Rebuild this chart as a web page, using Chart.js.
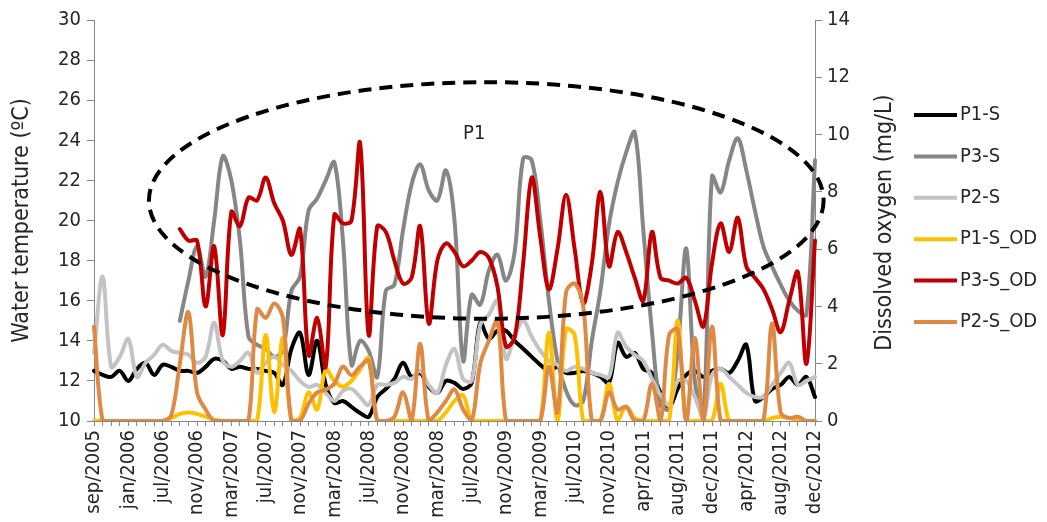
<!DOCTYPE html>
<html>
<head>
<meta charset="utf-8">
<script src="https://cdn.jsdelivr.net/npm/chart.js@4.4.1/dist/chart.umd.min.js"></script>
<style>
  html, body { margin: 0; padding: 0; background: #fff; }
  #wrap { width: 1047px; height: 522px; }
</style>
</head>
<body>
<div id="wrap"><canvas id="myChart" width="1047" height="522"></canvas></div>
<script>
// tick labels, one every 4 months (as printed on the original)
const tickLabels = ['sep/2005','jan/2006','jul/2006','nov/2006','mar/2007','jul/2007','nov/2007','mar/2008',
  'jul/2008','nov/2008','mar/2008','jul/2009','nov/2009','mar/2009','jul/2010','nov/2010','apr/2011',
  'aug/2011','dec/2011','apr/2012','aug/2012','dec/2012'];

// water temperature (ºC), left axis
const p1S = [12.5,12.3,12.2,12.5,12.0,12.6,12.9,12.3,12.8,12.7, 12.5,12.5,12.4,12.7,13.1,13.0,12.6,12.7,12.6,12.6,
  12.5,12.4,11.8,13.6,14.4,12.3,14.0,11.8,10.9,11.0, 10.7,10.4,10.2,11.2,11.6,12.1,12.9,12.2,12.4,11.7,
  11.4,12.0,11.9,11.6,11.9,14.9,14.1,14.5,14.5,14.0, 13.6,13.2,12.8,12.5,12.7,12.4,12.4,12.5,12.4,12.2,
  11.9,13.9,13.2,13.4,12.6,12.4,11.4,10.7,11.6,12.3, 12.5,12.2,12.5,12.6,12.4,13.0,13.8,11.0,11.2,11.6,
  11.8,12.2,11.8,12.2,11.2];
const p3S = [null,null,null,null,null,null,null,null,null,null, 15.0,17.0,18.7,17.2,20.0,23.2,22.0,19.0,14.2,13.8,
  13.6,13.2,13.5,16.5,17.2,20.5,21.1,22.0,22.9,19.0, 12.8,14.0,13.5,12.2,16.5,16.8,19.5,21.8,22.8,21.5,
  21.0,22.5,20.0,13.0,16.3,15.8,17.5,18.3,17.0,18.4, 23.1,23.0,20.0,16.0,13.0,11.5,10.8,11.0,14.0,16.5,
  19.8,21.9,23.4,24.4,19.5,14.5,10.8,10.6,13.5,18.6, 12.0,10.3,22.2,21.4,23.0,24.1,22.5,20.5,18.7,17.7,
  16.8,16.0,15.5,15.3,23.0];
const p2S = [13.4,17.2,12.7,13.2,14.1,12.2,12.9,13.3,13.8,13.5, 13.4,13.3,12.9,13.2,14.9,13.0,12.7,13.0,13.4,12.4,
  12.9,13.2,12.8,12.5,12.0,11.7,11.8,11.4,11.0,11.5, 11.6,11.2,10.8,11.8,11.8,11.9,12.2,12.1,12.5,11.8,
  11.4,12.8,13.6,12.1,12.0,14.8,15.3,16.0,13.1,14.2, 15.0,14.2,13.5,13.0,12.8,12.5,12.7,12.6,12.4,12.3,
  12.2,14.4,13.7,13.3,13.0,12.1,11.3,10.8,12.0,12.0, 11.2,10.2,12.3,12.6,12.2,11.8,11.4,11.2,11.2,11.8,
  12.4,12.9,11.8,12.0,12.2];

// dissolved oxygen (mg/L), right axis
const p1SOD = [0,0,0,0,0,0,0,0,0,0.1, 0.25,0.3,0.25,0.15,0.05,0,0,0,0,0,
  3.0,0.3,2.9,0,0.1,1.0,0.4,1.8,1.4,1.2, 1.4,1.8,2.2,0,0,0,0,0,0,0,
  0,0.3,0.7,0.9,0,0,0,0,0,0, 0,0,0,3.1,0,3.2,3.0,0,0,0,
  1.3,0,0.5,0.1,0,0,0,0,3.5,0, 0,0,0,1.3,0,0,0,0,0,0.1,
  0.15,0.1,0.05,0,0];
const p3SOD = [null,null,null,null,null,null,null,null,null,null, 6.7,6.3,6.3,4.0,6.1,3.0,7.3,6.8,7.8,7.7,
  8.5,7.6,7.0,5.8,6.7,2.3,3.6,1.9,7.2,6.9, 7.0,9.7,3.0,6.8,6.6,5.6,4.8,5.0,6.8,3.4,
  5.6,6.2,5.9,5.4,5.6,5.9,5.7,4.7,2.6,2.9, 5.5,8.5,6.4,4.6,6.0,7.9,6.0,4.1,5.5,8.0,
  5.4,6.6,5.9,5.0,4.2,6.6,5.0,4.9,4.8,5.0, 4.2,3.3,5.5,6.9,5.9,7.1,5.4,5.0,4.6,3.9,
  3.1,4.2,5.2,2.0,6.3];
const p2SOD = [3.3,0,0,0,0,0,0,0,0,0.2, 2.0,3.8,1.0,0.4,0,0,0,0,0,3.9,
  3.6,4.1,3.6,0,0,0.6,1.0,1.1,1.3,1.9, 1.6,1.9,2.1,0,0,0.15,1.0,0,2.7,0,
  0.3,0.7,1.1,0.4,0,2.0,2.8,3.5,0,0, 0,0,0,1.9,0.3,4.5,4.8,4.0,0,0,
  1.0,0.4,0.5,0,0,1.3,0,3.0,3.2,0, 2.9,0,3.3,0,0,0,0,0,0,3.4,
  0.3,0.1,0.15,0,0];

// one category per month, a label every 4th
const categories = p1S.map((v, i) => (i % 4 === 0 ? tickLabels[i / 4] : ''));

// dashed ellipse and its label, in axis units (category index, ºC)
const ellipse = { cx: 45.7, cy: 21.0, rx: 39.3, ry: 5.9 };
const noteP1 = { x: 44.3, y: 24.3, text: 'P1' };

const FONT = "'DejaVu Sans Condensed', 'DejaVu Sans', sans-serif";
const TXT = '#262626';
const AXIS = '#868686';

const series = [
  { label: 'P1-S', data: p1S, color: '#000000', axis: 'y' },
  { label: 'P3-S', data: p3S, color: '#868686', axis: 'y' },
  { label: 'P2-S', data: p2S, color: '#c3c3c3', axis: 'y' },
  { label: 'P1-S_OD', data: p1SOD, color: '#ffc000', axis: 'y1' },
  { label: 'P3-S_OD', data: p3SOD, color: '#c00000', axis: 'y1' },
  { label: 'P2-S_OD', data: p2SOD, color: '#df8a44', axis: 'y1' }
];

const overlay = {
  id: 'overlay',
  afterDatasetsDraw(chart) {
    const ctx = chart.ctx;
    const x = chart.scales.x, y = chart.scales.y;
    const cx = x.getPixelForValue(ellipse.cx), cy = y.getPixelForValue(ellipse.cy);
    const rx = x.getPixelForValue(ellipse.cx + ellipse.rx) - cx;
    const ry = cy - y.getPixelForValue(ellipse.cy + ellipse.ry);
    ctx.save();
    ctx.strokeStyle = '#000';
    ctx.lineWidth = 4;
    ctx.setLineDash([13, 8]);
    ctx.beginPath();
    ctx.ellipse(cx, cy, rx, ry, 0, 0, Math.PI * 2);
    ctx.stroke();
    ctx.setLineDash([]);
    ctx.fillStyle = TXT;
    ctx.font = '20px ' + FONT;
    ctx.textAlign = 'center';
    ctx.textBaseline = 'middle';
    ctx.fillText(noteP1.text, x.getPixelForValue(noteP1.x), y.getPixelForValue(noteP1.y));
    ctx.restore();
  },
  afterDraw(chart) {
    const ctx = chart.ctx;
    const area = chart.chartArea;
    const mid = (area.top + area.bottom) / 2;
    ctx.save();
    ctx.fillStyle = TXT;
    ctx.font = '23px ' + FONT;
    ctx.textAlign = 'center';
    ctx.textBaseline = 'middle';
    // axis titles, both read bottom to top
    ctx.save();
    ctx.translate(22, mid);
    ctx.rotate(-Math.PI / 2);
    ctx.fillText('Water temperature (ºC)', 0, 0);
    ctx.restore();
    ctx.save();
    ctx.translate(885, mid + 2);
    ctx.rotate(-Math.PI / 2);
    ctx.fillText('Dissolved oxygen (mg/L)', 0, 0);
    ctx.restore();
    // legend
    ctx.font = '20px ' + FONT;
    ctx.textAlign = 'left';
    chart.data.datasets.forEach((ds, k) => {
      const ly = 115 + k * 41.4;
      ctx.strokeStyle = ds.borderColor;
      ctx.lineWidth = 4;
      ctx.beginPath();
      ctx.moveTo(914, ly);
      ctx.lineTo(957, ly);
      ctx.stroke();
      ctx.fillText(ds.label, 960, ly);
    });
    ctx.restore();
  }
};

const config = {
  type: 'line',
  data: {
    labels: categories,
    datasets: series.map((s, k) => ({
      label: s.label,
      data: s.data,
      yAxisID: s.axis,
      borderColor: s.color,
      backgroundColor: s.color,
      order: series.length - k
    }))
  },
  options: {
    responsive: false,
    devicePixelRatio: 1,
    animation: false,
    layout: { padding: { top: 20, right: 172, left: 0, bottom: 0 } },
    plugins: { legend: { display: false }, tooltip: { enabled: false } },
    elements: {
      point: { radius: 0 },
      line: { tension: 0.35, borderWidth: 4, borderCapStyle: 'round', borderJoinStyle: 'round' }
    },
    scales: {
      x: {
        ticks: { autoSkip: false, minRotation: 90, maxRotation: 90, padding: 4, color: TXT, font: { family: FONT, size: 20 } },
        grid: { drawOnChartArea: false, tickLength: 5, color: AXIS },
        border: { color: AXIS },
        afterFit(scale) { scale.height = 101; }
      },
      y: {
        position: 'left',
        min: 10, max: 30,
        ticks: { stepSize: 2, padding: 6, color: TXT, font: { family: FONT, size: 20 } },
        grid: { drawOnChartArea: false, tickLength: 7, color: AXIS },
        border: { color: AXIS },
        afterFit(scale) { scale.width = 94; }
      },
      y1: {
        position: 'right',
        min: 0, max: 14,
        ticks: { stepSize: 2, padding: 5, color: TXT, font: { family: FONT, size: 20 } },
        grid: { drawOnChartArea: false, tickLength: 7, color: AXIS },
        border: { color: AXIS },
        afterFit(scale) { scale.width = 60; }
      }
    }
  },
  plugins: [overlay]
};

const myChart = new Chart(document.getElementById('myChart'), config);
</script>
</body>
</html>
